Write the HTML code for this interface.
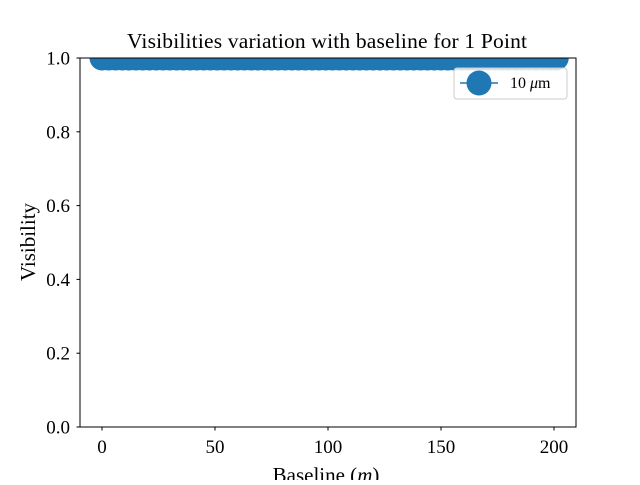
<!DOCTYPE html>
<html><head><meta charset="utf-8"><style>
body{margin:0;background:#fff}
text{font-family:"Liberation Serif","DejaVu Serif",serif;fill:#000}
</style></head><body>
<svg id="chart" width="640" height="480" viewBox="0 0 640 480">
<defs><clipPath id="clip"><rect x="80" y="58" width="496" height="369"/></clipPath></defs>
<rect x="0" y="0" width="640" height="480" fill="#fff"/>
<text x="327" y="48" font-size="21.5" text-anchor="middle" textLength="400">Visibilities variation with baseline for 1 Point</text>
<g id="series" clip-path="url(#clip)"></g>
<g id="axes"></g>
<rect x="80" y="58" width="496" height="369" fill="none" stroke="#000" stroke-width="1"/>
<text x="326" y="482" font-size="21" text-anchor="middle">Baseline (<tspan font-style="italic">m</tspan>)</text>
<text transform="translate(35,242) rotate(-90)" font-size="21" text-anchor="middle">Visibility</text>
<g>
<rect x="454" y="68" width="113" height="31" rx="3" fill="#fff" fill-opacity="0.8" stroke="#ccc"/>
<line x1="460" y1="83" x2="498" y2="83" stroke="#1f77b4" stroke-width="1.5"/>
<circle cx="479" cy="83" r="12.5" fill="#1f77b4"/>
<text x="510" y="88" font-size="16">10 <tspan font-style="italic">μ</tspan>m</text>
</g>
</svg>
<script>
const baselines=[0,3,6,9,12,15,18,21,24,27,30,33,36,39,42,45,48,51,54,57,60,63,66,69,72,75,78,81,84,87,90,93,96,99,102,105,108,111,114,117,120,123,126,129,132,135,138,141,144,147,150,153,156,159,162,165,168,171,174,177,180,183,186,189,192,195,198,201];
const visibilities=[1,1,1,1,1,1,1,1,1,1,1,1,1,1,1,1,1,1,1,1,1,1,1,1,1,1,1,1,1,1,1,1,1,1,1,1,1,1,1,1,1,1,1,1,1,1,1,1,1,1,1,1,1,1,1,1,1,1,1,1,1,1,1,1,1,1,1,1];
const xTicks=[0,50,100,150,200];
const yTicks=[0.0,0.2,0.4,0.6,0.8,1.0];
const xs=v=>102+(v-0)*(554-102)/200;
const ys=v=>427-v*369;
const NS="http://www.w3.org/2000/svg";
const ser=document.getElementById('series');
const pl=document.createElementNS(NS,'polyline');
pl.setAttribute('points',baselines.map((b,i)=>xs(b)+','+ys(visibilities[i])).join(' '));
pl.setAttribute('fill','none');pl.setAttribute('stroke','#1f77b4');pl.setAttribute('stroke-width','1.5');


ser.appendChild(pl);
baselines.forEach((b,i)=>{
const c=document.createElementNS(NS,'circle');
c.setAttribute('cx',xs(b));c.setAttribute('cy',ys(visibilities[i]));c.setAttribute('r',12.5);c.setAttribute('fill','#1f77b4');


ser.appendChild(c);
});
const ax=document.getElementById('axes');
xTicks.forEach(t=>{
const l=document.createElementNS(NS,'line');
l.setAttribute('x1',xs(t));l.setAttribute('x2',xs(t));l.setAttribute('y1',427);l.setAttribute('y2',430.5);l.setAttribute('stroke','#000');


ax.appendChild(l);
const tx=document.createElementNS(NS,'text');
tx.setAttribute('x',xs(t));tx.setAttribute('y',453);tx.setAttribute('font-size','19');tx.setAttribute('text-anchor','middle');
tx.textContent=t;


ax.appendChild(tx);
});
yTicks.forEach(t=>{
const l=document.createElementNS(NS,'line');
l.setAttribute('x1',76.5);l.setAttribute('x2',80);l.setAttribute('y1',ys(t));l.setAttribute('y2',ys(t));l.setAttribute('stroke','#000');


ax.appendChild(l);
const tx=document.createElementNS(NS,'text');
tx.setAttribute('x',70);tx.setAttribute('y',ys(t)+6.5);tx.setAttribute('font-size','19');tx.setAttribute('text-anchor','end');
tx.textContent=t.toFixed(1);


ax.appendChild(tx);
});
</script>
</body></html>
